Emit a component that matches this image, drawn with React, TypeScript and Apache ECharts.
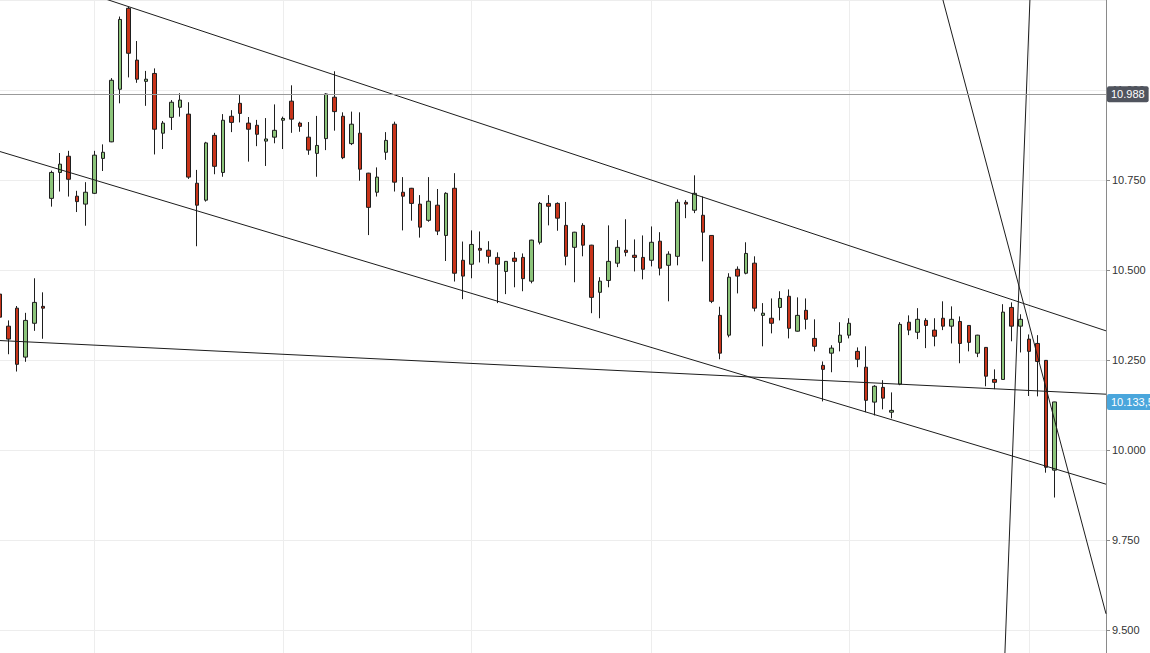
import React, { useEffect, useRef } from "react";
import * as echarts from "echarts";

// category slots (trading days); the last few are empty space before the price axis
const categories: string[] = Array.from({ length: 130 }, (_, i) => `D${i + 1}`);

// candles: [open, close, low, high]
const candles: number[][] = [
  [10.433, 10.369, 10.356, 10.439],
  [10.344, 10.308, 10.266, 10.36],
  [10.394, 10.238, 10.218, 10.4],
  [10.258, 10.36, 10.245, 10.381],
  [10.352, 10.41, 10.331, 10.477],
  [10.399, 10.394, 10.309, 10.438],
  [10.699, 10.771, 10.676, 10.776],
  [10.771, 10.794, 10.718, 10.825],
  [10.816, 10.752, 10.704, 10.831],
  [10.705, 10.69, 10.661, 10.72],
  [10.683, 10.716, 10.623, 10.744],
  [10.713, 10.819, 10.711, 10.831],
  [10.81, 10.827, 10.775, 10.849],
  [10.856, 11.027, 10.855, 11.033],
  [11.002, 11.196, 10.963, 11.204],
  [11.227, 11.102, 11.035, 11.231],
  [11.083, 11.03, 11.02, 11.136],
  [11.024, 11.03, 10.956, 11.053],
  [11.046, 10.891, 10.821, 11.06],
  [10.88, 10.908, 10.836, 10.914],
  [10.924, 10.966, 10.889, 10.972],
  [10.952, 10.972, 10.926, 10.991],
  [10.933, 10.758, 10.753, 10.966],
  [10.741, 10.68, 10.566, 10.778],
  [10.694, 10.853, 10.69, 10.856],
  [10.874, 10.788, 10.766, 10.881],
  [10.771, 10.916, 10.759, 10.933],
  [10.927, 10.91, 10.883, 10.944],
  [10.963, 10.935, 10.91, 10.986],
  [10.908, 10.891, 10.801, 10.925],
  [10.902, 10.877, 10.844, 10.917],
  [10.858, 10.864, 10.789, 10.922],
  [10.869, 10.888, 10.852, 10.96],
  [10.916, 10.921, 10.836, 10.926],
  [10.969, 10.919, 10.881, 11.013],
  [10.908, 10.899, 10.884, 10.912],
  [10.869, 10.833, 10.82, 10.911],
  [10.824, 10.846, 10.759, 10.928],
  [10.865, 10.989, 10.833, 10.991],
  [10.98, 10.94, 10.887, 11.052],
  [10.927, 10.812, 10.808, 10.938],
  [10.851, 10.905, 10.847, 10.94],
  [10.88, 10.78, 10.748, 10.938],
  [10.769, 10.674, 10.597, 10.77],
  [10.716, 10.758, 10.704, 10.785],
  [10.827, 10.86, 10.806, 10.883],
  [10.905, 10.744, 10.718, 10.912],
  [10.716, 10.705, 10.61, 10.758],
  [10.727, 10.685, 10.637, 10.728],
  [10.683, 10.619, 10.59, 10.708],
  [10.638, 10.691, 10.634, 10.758],
  [10.68, 10.608, 10.597, 10.725],
  [10.596, 10.713, 10.525, 10.716],
  [10.727, 10.491, 10.468, 10.769],
  [10.527, 10.483, 10.419, 10.579],
  [10.516, 10.571, 10.477, 10.61],
  [10.56, 10.555, 10.521, 10.607],
  [10.555, 10.538, 10.518, 10.58],
  [10.535, 10.516, 10.408, 10.549],
  [10.496, 10.524, 10.433, 10.525],
  [10.533, 10.524, 10.452, 10.55],
  [10.535, 10.476, 10.441, 10.546],
  [10.469, 10.583, 10.463, 10.584],
  [10.577, 10.685, 10.571, 10.689],
  [10.685, 10.677, 10.624, 10.708],
  [10.685, 10.644, 10.609, 10.688],
  [10.624, 10.538, 10.513, 10.689],
  [10.563, 10.605, 10.466, 10.606],
  [10.624, 10.569, 10.538, 10.63],
  [10.569, 10.424, 10.38, 10.57],
  [10.438, 10.469, 10.366, 10.48],
  [10.471, 10.524, 10.452, 10.624],
  [10.519, 10.563, 10.508, 10.583],
  [10.555, 10.549, 10.538, 10.641],
  [10.541, 10.535, 10.496, 10.585],
  [10.535, 10.502, 10.474, 10.596],
  [10.527, 10.577, 10.51, 10.621],
  [10.58, 10.505, 10.485, 10.605],
  [10.513, 10.544, 10.413, 10.552],
  [10.538, 10.688, 10.513, 10.696],
  [10.688, 10.683, 10.644, 10.694],
  [10.666, 10.713, 10.658, 10.763],
  [10.652, 10.605, 10.524, 10.704],
  [10.596, 10.413, 10.408, 10.597],
  [10.374, 10.269, 10.252, 10.398],
  [10.319, 10.48, 10.313, 10.491],
  [10.502, 10.483, 10.435, 10.51],
  [10.491, 10.546, 10.488, 10.577],
  [10.519, 10.394, 10.385, 10.538],
  [10.374, 10.38, 10.288, 10.408],
  [10.366, 10.352, 10.324, 10.421],
  [10.396, 10.421, 10.36, 10.441],
  [10.427, 10.338, 10.31, 10.446],
  [10.33, 10.374, 10.329, 10.424],
  [10.388, 10.363, 10.335, 10.421],
  [10.31, 10.288, 10.274, 10.363],
  [10.235, 10.224, 10.135, 10.246],
  [10.269, 10.283, 10.216, 10.291],
  [10.299, 10.319, 10.274, 10.355],
  [10.319, 10.352, 10.31, 10.366],
  [10.274, 10.252, 10.23, 10.285],
  [10.23, 10.138, 10.105, 10.288],
  [10.133, 10.177, 10.096, 10.18],
  [10.174, 10.144, 10.113, 10.194],
  [10.105, 10.11, 10.088, 10.16],
  [10.183, 10.349, 10.18, 10.355],
  [10.355, 10.333, 10.319, 10.374],
  [10.327, 10.363, 10.308, 10.394],
  [10.36, 10.346, 10.283, 10.366],
  [10.333, 10.316, 10.288, 10.366],
  [10.366, 10.344, 10.333, 10.413],
  [10.344, 10.363, 10.296, 10.399],
  [10.357, 10.296, 10.241, 10.371],
  [10.346, 10.299, 10.274, 10.347],
  [10.269, 10.319, 10.258, 10.32],
  [10.285, 10.205, 10.177, 10.286],
  [10.196, 10.188, 10.169, 10.224],
  [10.196, 10.383, 10.195, 10.405],
  [10.396, 10.344, 10.302, 10.41],
  [10.344, 10.363, 10.271, 10.377],
  [10.308, 10.274, 10.15, 10.321],
  [10.296, 10.246, 10.149, 10.319],
  [10.249, 9.952, 9.937, 10.25],
  [9.944, 10.1335, 9.868, 10.134],
];

// category indices where a new month begins (vertical grid lines)
const monthStarts: number[] = [11, 33, 55, 76, 99, 120];

// y-axis (the part below ~9.44 lies below the visible window)
const yMin = 9.25;
const yMax = 11.25;
const yStep = 0.25;

// trend lines: [categoryIndex, price]
const upperChannel: number[][] = [[0, 11.35], [129, 10.331]];
const lowerChannel: number[][] = [[0, 10.829], [129, 9.905]];
const flatSupport: number[][] = [[0, 10.304], [129, 10.155]];
const steepDown: number[][] = [[109, 11.338], [129, 9.545]];
const steepUp: number[][] = [[117, 9.306], [121, 11.793]];

// price tags
const refPrice = 10.988;
const refPriceLabel = "10.988";
const lastPrice = 10.1335;
const lastPriceLabel = "10.133,5";

const FONT = "'Liberation Sans', Arial, Helvetica, sans-serif";

export default function App() {
  const ref = useRef<HTMLDivElement>(null);

  useEffect(() => {
    if (!ref.current) return;
    const chart = echarts.init(ref.current, null, { renderer: "svg" });

    const trend = (data: number[][], name: string) => ({
      name,
      type: "line",
      data,
      symbol: "none",
      silent: true,
      z: 4,
      lineStyle: { color: "#1c1c1c", width: 1 },
      clip: true,
    });

    const tagLabel = (text: string, bg: string) => ({
      show: true,
      position: "end",
      distance: 1,
      formatter: text,
      color: "#ffffff",
      backgroundColor: bg,
      borderRadius: 2,
      padding: [3, 4, 2, 4],
      fontSize: 11,
      fontFamily: FONT,
      opacity: 1,
    });

    chart.setOption({
      animation: false,
      backgroundColor: "#ffffff",
      textStyle: { fontFamily: FONT },
      grid: { left: 0, right: 44, top: 0, bottom: 0, containLabel: false },
      xAxis: {
        type: "category",
        data: categories,
        boundaryGap: false,
        axisLine: { show: false },
        axisTick: { show: false },
        axisLabel: { show: false },
        splitLine: {
          show: true,
          interval: (index: number) => monthStarts.includes(index),
          lineStyle: { color: "#ededed", width: 1 },
        },
      },
      yAxis: {
        type: "value",
        position: "right",
        min: yMin,
        max: yMax,
        interval: yStep,
        axisLine: { show: true, lineStyle: { color: "#8a8a8a", width: 1 } },
        axisTick: { show: true, length: 4, lineStyle: { color: "#8a8a8a" } },
        axisLabel: {
          show: true,
          margin: 6,
          color: "#333333",
          fontSize: 11,
          fontFamily: FONT,
          showMaxLabel: false,
          showMinLabel: false,
          formatter: (v: number) => v.toFixed(3),
        },
        splitLine: { show: true, lineStyle: { color: "#ededed", width: 1 } },
      },
      series: [
        {
          name: "price",
          type: "candlestick",
          data: candles,
          barWidth: 4,
          z: 3,
          clip: true,
          itemStyle: {
            color: "#8cc47a",
            color0: "#c8341a",
            borderColor: "#1e1e1e",
            borderColor0: "#1e1e1e",
            borderWidth: 1,
          },
          markLine: {
            symbol: "none",
            silent: true,
            animation: false,
            precision: 4,
            data: [
              {
                yAxis: refPrice,
                lineStyle: { color: "#9a9a9a", width: 1, type: "solid" },
                label: tagLabel(refPriceLabel, "#50545e"),
              },
              {
                yAxis: lastPrice,
                lineStyle: { color: "rgba(255,255,255,0)", width: 1, type: "solid" },
                label: tagLabel(lastPriceLabel, "#4aa6dc"),
              },
            ],
          },
        },
        trend(upperChannel, "upper"),
        trend(lowerChannel, "lower"),
        trend(flatSupport, "flat"),
        trend(steepDown, "steepDown"),
        trend(steepUp, "steepUp"),
      ],
    });

    return () => chart.dispose();
  }, []);

  return (
    <div
      ref={ref}
      style={{ position: "fixed", left: 0, top: 0, width: 1150, height: 720, background: "#fff" }}
    />
  );
}
